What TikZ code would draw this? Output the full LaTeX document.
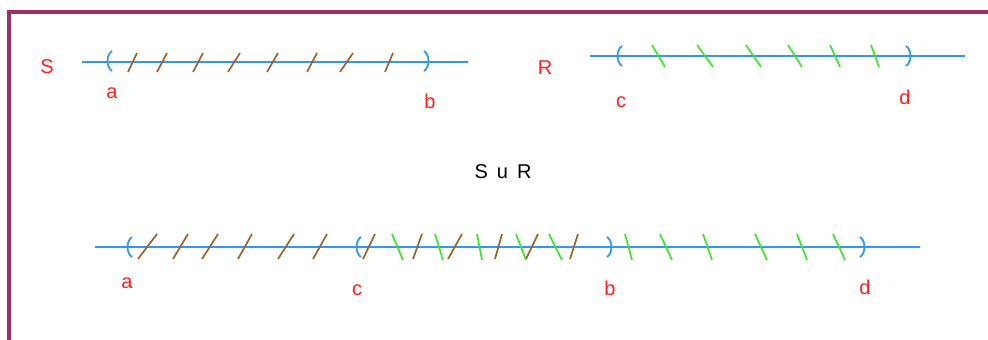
\documentclass[tikz,border=0pt]{standalone}
\usepackage{fontspec}
\setmainfont{Liberation Sans}
\definecolor{framec}{RGB}{158,48,104}
\definecolor{linec}{RGB}{51,150,240}
\definecolor{brownc}{RGB}{150,100,45}
\definecolor{greenc}{RGB}{60,230,40}
\definecolor{labc}{RGB}{255,30,30}
\begin{document}
\begin{tikzpicture}[x=1pt,y=-1pt,
  frameline/.style={draw=framec,line width=4pt},
  axisline/.style={draw=linec,line width=2pt},
  bracket/.style={draw=linec,line width=1.8pt},
  browntick/.style={draw=brownc,line width=1.7pt},
  greentick/.style={draw=greenc,line width=1.7pt},
  lab/.style={text=labc,font=\fontsize{20}{22}\selectfont,inner sep=0pt},
  title/.style={text=black,font=\fontsize{20}{22}\selectfont,inner sep=0pt}]
\useasboundingbox (0,0) rectangle (988,340);
\fill[white] (0,0) rectangle (988,340);
% frame
\coordinate (fb) at (8.5,342);
\coordinate (fc) at (8.5,12);
\coordinate (fr) at (990,12);
\draw[frameline] (fb) -- (fc) -- (fr);

% ---------- S line ----------
\coordinate (s1) at (82,61.5);
\coordinate (s2) at (468,61.5);
\draw[axisline] (s1) -- (s2);
\draw[bracket] (112,51) .. controls (106,55) and (106,67) .. (112,71);
\draw[bracket] (424,51) .. controls (430,55) and (430,67) .. (424,71);
\foreach \a/\b in {128/137,157/167,193/203,228/240,267/278,307/317,340/353,385/393}
  \draw[browntick] (\a,72) -- (\b,53);
\node[lab] (S) at (47,67) {S};
\node[lab] (a1) at (112,93) {a};
\node[lab] (b1) at (430,101) {b};

% ---------- R line ----------
\coordinate (r1) at (590,55.5);
\coordinate (r2) at (965,55.5);
\draw[axisline] (r1) -- (r2);
\draw[bracket] (622,46) .. controls (616,50) and (616,62) .. (622,66);
\draw[bracket] (906,46) .. controls (912,50) and (912,62) .. (906,66);
\foreach \a/\b in {652/665,697/713,746/761,788/802,830/840,871/879}
  \draw[greentick] (\a,45) -- (\b,67);
\node[lab] (R) at (545,68) {R};
\node[lab] (c1) at (621,102) {c};
\node[lab] (d1) at (905,97) {d};

% ---------- title ----------
\node[title] (T) at (503,172) {S\hspace{9pt}u\hspace{9pt}R};

% ---------- union line ----------
\coordinate (u1) at (95,247);
\coordinate (u2) at (920,247);
\draw[axisline] (u1) -- (u2);
\draw[bracket] (132,237) .. controls (126,241) and (126,253) .. (132,257);
\draw[bracket] (361,237) .. controls (355,241) and (355,253) .. (361,257);
\draw[bracket] (607,237) .. controls (613,241) and (613,253) .. (607,257);
\draw[bracket] (860,237) .. controls (866,241) and (866,253) .. (860,257);
\foreach \a/\b in {138/157,173/188,202/218,238/252,278/294,313/327,363/375,413/422,448/462,495/502,526/538,570/578}
  \draw[browntick] (\a,259) -- (\b,234);
\foreach \a/\b in {392/403,435/443,477/482,516/526,549/562,625/632,660/672,703/712,755/767,797/807,833/845}
  \draw[greentick] (\a,234) -- (\b,260);
\node[lab] (a2) at (127,283) {a};
\node[lab] (c2) at (357,290) {c};
\node[lab] (b2) at (610,288) {b};
\node[lab] (d2) at (865,287) {d};
\end{tikzpicture}
\end{document}
